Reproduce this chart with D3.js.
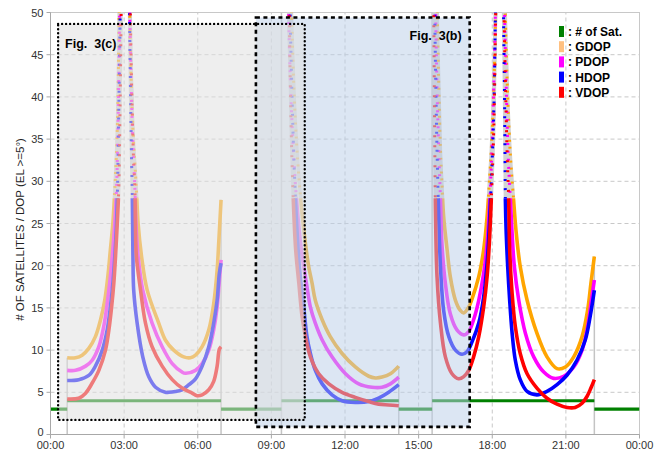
<!DOCTYPE html>
<html><head><meta charset="utf-8">
<script src="https://cdn.jsdelivr.net/npm/d3@7"></script>
<style>
html,body{margin:0;padding:0;background:#fff;}
svg{display:block;font-family:"Liberation Sans",Arial,sans-serif;}
</style></head>
<body><svg id="c" width="659" height="453"></svg>
<script>
// ---------------- DATA ----------------
const xTickHours = [0,3,6,9,12,15,18,21,24];
const xTickLabels = ["00:00","03:00","06:00","09:00","12:00","15:00","18:00","21:00","00:00"];
const yTicks = [0,5,10,15,20,25,30,35,40,45,50];
const yTitle = "# OF SATELLITES / DOP (EL >=5°)";

// number of satellites: interval boundaries (hours) and count in each interval
const satTimes  = [0, 0.68, 6.95, 9.41, 14.19, 15.55, 22.16, 24];
const satCounts = [3, 4, 3, 4, 3, 4, 3];

// DOP series, [hour, value] per visible segment
const gdop = [
 [[0.68,9.1],[1.02,9.1],[1.29,9.4],[1.56,10.2],[1.83,11.6],[2.04,13.6],[2.21,15.9],[2.35,19.1],[2.44,21.9],[2.54,25.0],[2.62,29.0],[2.72,36],[2.78,46],[2.82,55],[3.0,90],[3.20,55],[3.26,45],[3.36,36],[3.50,29.0],[3.57,25.0],[3.71,21.1],[3.94,17.1],[4.41,13.2],[4.68,11.2],[5.02,10.0],[5.43,9.2],[5.70,9.1],[5.91,9.4],[6.18,10.4],[6.45,12.4],[6.65,15.5],[6.79,19.5],[6.86,23.0],[6.95,27.8]],
 [[9.41,95],[9.65,75],[9.82,50],[9.98,37],[10.19,28],[10.42,21.9],[10.52,19.9],[10.66,17.9],[10.79,15.9],[11.07,13.6],[11.40,11.6],[11.88,9.6],[12.42,8.0],[12.97,6.9],[13.24,6.7],[13.51,6.8],[13.85,7.2],[14.19,8.1]],
 [[15.55,95],[15.66,70],[15.76,50],[15.89,33.7],[15.95,29.8],[16.02,25.8],[16.16,21.9],[16.29,18.7],[16.50,15.9],[16.70,14.7],[16.84,14.4],[17.04,15.1],[17.18,16.1],[17.45,18.7],[17.65,21.9],[17.79,25.8],[17.88,29.8],[17.96,33.7],[18.05,40],[18.14,50],[18.25,75],[18.33,95],[18.42,70],[18.53,50],[18.63,40],[18.74,33],[18.87,27.8],[18.98,23.8],[19.14,19.9],[19.42,15.9],[19.82,12.0],[20.23,9.2],[20.64,7.8],[20.98,8.0],[21.32,9.2],[21.66,11.6],[21.89,14.8],[22.02,17.9],[22.16,21.1]]
];
const pdop = [
 [[0.68,7.6],[1.02,7.6],[1.43,8.1],[1.70,8.8],[1.97,10.4],[2.17,12.8],[2.31,15.5],[2.44,18.7],[2.54,21.9],[2.62,25.0],[2.69,29.0],[2.76,38],[2.81,48],[2.85,58],[3.0,90],[3.20,55],[3.27,44],[3.35,35],[3.44,29.0],[3.48,25.0],[3.57,21.1],[3.76,17.1],[4.14,13.2],[4.55,10.4],[4.96,8.4],[5.36,7.4],[5.50,7.25],[5.91,7.6],[6.18,8.4],[6.45,10.0],[6.65,12.4],[6.79,15.1],[6.86,17.5],[6.95,20.7]],
 [[9.41,95],[9.60,67],[9.70,50],[9.84,37],[10.02,28],[10.22,21.9],[10.45,17.5],[10.59,15.1],[10.79,13.2],[11.07,11.2],[11.47,9.2],[12.02,7.2],[12.56,6.0],[13.10,5.6],[13.51,5.6],[13.85,6.0],[14.19,6.8]],
 [[15.55,95],[15.64,70],[15.72,45],[15.82,33.7],[15.89,27.8],[15.95,22.6],[16.09,17.9],[16.29,14.3],[16.56,12.4],[16.84,11.8],[17.04,12.2],[17.24,13.6],[17.45,15.9],[17.65,19.1],[17.79,22.6],[17.88,26.6],[17.96,31.7],[18.05,40],[18.13,50],[18.25,75],[18.33,95],[18.41,70],[18.50,50],[18.58,40],[18.65,33],[18.74,27.8],[18.81,23.8],[18.90,19.9],[19.08,15.9],[19.35,12.0],[19.69,9.2],[20.10,7.4],[20.50,6.65],[20.91,6.9],[21.32,8.0],[21.66,10.0],[21.89,12.8],[22.02,15.5],[22.16,18.3]]
];
const hdop = [
 [[0.68,6.4],[1.15,6.5],[1.56,7.0],[1.83,8.1],[2.11,10.0],[2.31,12.4],[2.44,15.1],[2.54,17.9],[2.62,21.1],[2.69,25.0],[2.73,29.0],[2.78,38],[2.83,48],[2.87,58],[3.0,90],[3.18,60],[3.24,45],[3.30,33],[3.33,29],[3.345,25.0],[3.36,21.0],[3.39,17.1],[3.53,13.2],[3.76,9.2],[4.01,6.8],[4.28,5.6],[4.68,5.0],[4.82,5.0],[5.09,5.1],[5.36,5.3],[5.64,5.9],[5.91,6.6],[6.18,8.1],[6.45,10.4],[6.65,13.2],[6.79,15.9],[6.88,19.1],[6.95,20.3]],
 [[9.41,95],[9.62,70],[9.76,50],[9.88,36],[9.98,28],[10.09,21.9],[10.18,18.7],[10.32,15.1],[10.45,11.6],[10.59,9.6],[10.79,7.6],[11.07,6.0],[11.47,4.7],[11.88,4.0],[12.42,3.8],[12.97,3.9],[13.37,4.3],[13.78,5.0],[14.19,5.9]],
 [[15.55,95],[15.62,60],[15.68,45],[15.75,33.7],[15.82,25.8],[15.89,19.9],[16.02,14.7],[16.23,11.6],[16.50,10.0],[16.77,9.5],[16.97,9.8],[17.18,11.0],[17.45,13.2],[17.65,16.3],[17.79,20.3],[17.88,24.6],[17.96,29.8],[18.06,38],[18.13,50],[18.25,75],[18.33,95],[18.40,70],[18.46,50],[18.50,40],[18.52,33],[18.535,27.8],[18.57,23.8],[18.63,19.9],[18.71,15.9],[18.81,12.0],[18.94,8.8],[19.14,6.5],[19.42,5.1],[19.82,4.7],[20.23,5.1],[20.64,5.9],[21.05,7.05],[21.45,8.8],[21.79,11.2],[21.99,14.0],[22.16,17.1]]
];
const vdop = [
 [[0.68,4.2],[1.15,4.3],[1.43,4.9],[1.70,6.1],[1.97,7.6],[2.24,10.0],[2.38,12.4],[2.49,15.1],[2.58,17.9],[2.65,21.1],[2.72,25.0],[2.78,29.0],[2.83,38],[2.87,48],[2.90,58],[3.0,90],[3.20,60],[3.28,45],[3.38,33],[3.44,29.0],[3.46,25.0],[3.50,21.1],[3.67,17.1],[3.87,13.2],[4.14,10.4],[4.55,8.1],[4.96,6.5],[5.36,5.5],[5.77,4.9],[5.97,4.6],[6.18,4.7],[6.45,5.3],[6.65,6.3],[6.79,8.1],[6.88,10.1],[6.95,10.4]],
 [[9.41,95],[9.65,70],[9.73,50],[9.80,37],[9.89,28],[9.99,21.9],[10.12,17.9],[10.25,14.0],[10.39,11.6],[10.59,9.2],[10.93,7.2],[11.34,6.0],[11.88,5.0],[12.42,4.4],[12.97,3.9],[13.37,3.6],[13.78,3.5],[14.19,3.4]],
 [[15.55,95],[15.60,60],[15.63,45],[15.66,33.7],[15.69,25.8],[15.75,18.7],[15.89,13.2],[16.09,9.2],[16.36,7.2],[16.63,6.6],[16.84,6.85],[17.04,7.6],[17.24,9.2],[17.45,11.6],[17.65,15.1],[17.79,18.7],[17.88,22.6],[17.96,27.8],[18.06,36],[18.14,50],[18.25,75],[18.33,95],[18.41,70],[18.48,50],[18.55,40],[18.61,33],[18.67,27.8],[18.71,21.9],[18.81,16.7],[18.94,12.8],[19.14,9.6],[19.42,7.2],[19.82,5.5],[20.23,4.3],[20.64,3.6],[21.05,3.2],[21.38,3.2],[21.66,3.7],[21.86,4.5],[22.02,5.5],[22.16,6.5]]
];

const seriesNames  = ["GDOP","PDOP","HDOP","VDOP"];
const seriesData   = [gdop, pdop, hdop, vdop];
const seriesColors = ["#ffa500","#ff00ff","#0000ff","#ff0000"];
const legendLabels = [": # of Sat.", ": GDOP", ": PDOP", ": HDOP", ": VDOP"];
const legendColors = ["#008000","#ffc080","#ff00ff","#0000ff","#ff0000"];

// highlighted windows
const boxC = {label:"Fig.  3(c)", t0:0.31, t1:10.36, v0:1.73, v1:48.65};
const boxB = {label:"Fig.  3(b)", t0:8.37, t1:17.08, v0:0.9, v1:49.4};

// ---------------- CHART ----------------
const svg = d3.select("#c");
const x = d3.scaleLinear().domain([0,24]).range([50.5,639.5]);
const y = d3.scaleLinear().domain([0,50]).range([434.5,12.5]);
const steepV = 28; // above this the curves are sparse markers in the reference

const defs = svg.append("defs");
defs.append("clipPath").attr("id","pcLow")
  .append("rect").attr("x",x(0)).attr("y",y(steepV)).attr("width",x(24)-x(0)).attr("height",y(0)-y(steepV));
defs.append("clipPath").attr("id","pcHigh")
  .append("rect").attr("x",x(0)).attr("y",y(50)).attr("width",x(24)-x(0)).attr("height",y(steepV)-y(50));
defs.append("clipPath").attr("id","pc")
  .append("rect").attr("x",x(0)).attr("y",y(50)).attr("width",x(24)-x(0)).attr("height",y(0)-y(50));

// grid
const grid = svg.append("g");
grid.selectAll(".hg").data(yTicks.filter(d=>d>0&&d<50)).join("line")
  .attr("x1",x(0)).attr("x2",x(24)).attr("y1",d=>y(d)).attr("y2",d=>y(d))
  .attr("stroke","#c8c8c8").attr("stroke-dasharray","4,3");
grid.selectAll(".vg").data(xTickHours.filter(d=>d>0&&d<24)).join("line")
  .attr("x1",d=>x(d)).attr("x2",d=>x(d)).attr("y1",y(0)).attr("y2",y(50))
  .attr("stroke","#c8c8c8").attr("stroke-dasharray","4,3");

// frame
svg.append("rect").attr("x",x(0)).attr("y",y(50)).attr("width",x(24)-x(0)).attr("height",y(0)-y(50))
  .attr("fill","none").attr("stroke","#c8c8c8");

const plot = svg.append("g").attr("clip-path","url(#pc)");

// segment boundary lines
const bounds = satTimes.slice(1,-1);
plot.selectAll(".bl").data(bounds).join("line")
  .attr("x1",d=>x(d)).attr("x2",d=>x(d)).attr("y1",y(0))
  .attr("y2",d=>{
    let m=0;
    seriesData.forEach(s=>s.forEach(seg=>seg.forEach(p=>{ if(Math.abs(p[0]-d)<1e-6) m=Math.max(m,p[1]); })));
    return y(Math.min(m,50));
  })
  .attr("stroke","#c4c4c4").attr("stroke-width",1.5);

const line = d3.line().x(d=>x(d[0])).y(d=>y(d[1])).curve(d3.curveCatmullRom.alpha(0.5));

// steep (upper) part: gray connecting band + sparse coloured markers
const hi = svg.append("g").attr("clip-path","url(#pcHigh)");
seriesData.forEach(s=>{
  hi.append("g").selectAll("path").data(s).join("path")
    .attr("d",line).attr("fill","none").attr("stroke","#d2d2d2").attr("stroke-width",3.4);
});
seriesData.forEach((s,i)=>{
  hi.append("g").selectAll("path").data(s).join("path")
    .attr("d",line).attr("fill","none").attr("stroke",seriesColors[i])
    .attr("stroke-width",3).attr("stroke-dasharray",`2,${5+i}`).attr("stroke-dashoffset",i*2.5);
});
// lower part: dense markers -> solid band
const lo = svg.append("g").attr("clip-path","url(#pcLow)");
seriesData.forEach((s,i)=>{
  lo.append("g").selectAll("path").data(s).join("path")
    .attr("d",line).attr("fill","none").attr("stroke",seriesColors[i])
    .attr("stroke-width",3.6).attr("stroke-linejoin","round");
});

// satellites
const satSeg = satCounts.map((c,i)=>({t0:satTimes[i], t1:satTimes[i+1], c}));
plot.selectAll(".sat").data(satSeg).join("line")
  .attr("x1",d=>x(d.t0)).attr("x2",d=>x(d.t1)).attr("y1",d=>y(d.c)).attr("y2",d=>y(d.c))
  .attr("stroke","#008000").attr("stroke-width",3.2);

// overlays
function bx(b){ return {x:x(b.t0), y:y(b.v1), w:x(b.t1)-x(b.t0), h:y(b.v0)-y(b.v1)}; }
const rc = bx(boxC), rb = bx(boxB);
svg.append("rect").attr("x",rb.x).attr("y",rb.y).attr("width",rb.w).attr("height",rb.h)
  .attr("fill","rgb(188,208,232)").attr("fill-opacity",0.52);
svg.append("rect").attr("x",rc.x).attr("y",rc.y).attr("width",rc.w).attr("height",rc.h)
  .attr("fill","rgb(224,224,224)").attr("fill-opacity",0.55);
svg.append("rect").attr("x",rc.x).attr("y",rc.y).attr("width",rc.w).attr("height",rc.h)
  .attr("fill","none").attr("stroke","#000").attr("stroke-width",2.4)
  .attr("stroke-dasharray","0,4").attr("stroke-linecap","round");
svg.append("rect").attr("x",rb.x).attr("y",rb.y).attr("width",rb.w).attr("height",rb.h)
  .attr("fill","none").attr("stroke","#000").attr("stroke-width",2.6)
  .attr("stroke-dasharray","4,3.5");
svg.append("text").attr("x",rc.x+7).attr("y",rc.y+24).text(boxC.label)
  .attr("font-weight","bold").attr("font-size",12.5).attr("fill","#000").style("white-space","pre");
svg.append("text").attr("x",rb.x+rb.w-8).attr("y",rb.y+22).attr("text-anchor","end").text(boxB.label)
  .attr("font-weight","bold").attr("font-size",12.5).attr("fill","#000").style("white-space","pre");

// axes
svg.append("line").attr("x1",x(0)).attr("x2",x(0)).attr("y1",y(0)).attr("y2",y(50)).attr("stroke","#a8a8a8");
svg.append("line").attr("x1",x(0)).attr("x2",x(24)).attr("y1",y(0)).attr("y2",y(0)).attr("stroke","#a8a8a8");
svg.selectAll(".yt").data(yTicks).join("line")
  .attr("x1",x(0)-4).attr("x2",x(0)).attr("y1",d=>y(d)).attr("y2",d=>y(d)).attr("stroke","#a8a8a8");
svg.selectAll(".ytl").data(yTicks).join("text")
  .attr("x",x(0)-7).attr("y",d=>y(d)+(d===0?1:4)).attr("text-anchor","end").attr("font-size",11).attr("fill","#333")
  .text(d=>d);
svg.selectAll(".xt").data(xTickHours).join("line")
  .attr("x1",d=>x(d)).attr("x2",d=>x(d)).attr("y1",y(0)).attr("y2",y(0)+4).attr("stroke","#a8a8a8");
svg.selectAll(".xtl").data(xTickHours).join("text")
  .attr("x",d=>x(d)).attr("y",y(0)+14.5).attr("text-anchor","middle").attr("font-size",11).attr("fill","#333")
  .text((d,i)=>xTickLabels[i]);
svg.append("text").attr("transform",`translate(24,${(y(0)+y(50))/2+6}) rotate(-90)`)
  .attr("text-anchor","middle").attr("font-size",11.5).attr("fill","#222").text(yTitle);

// legend
const lg = svg.append("g");
legendLabels.forEach((l,i)=>{
  const yy = 26 + i*15.2;
  lg.append("rect").attr("x",559).attr("y",yy).attr("width",5).attr("height",11).attr("fill",legendColors[i]);
  lg.append("text").attr("x",568).attr("y",yy+10).attr("font-size",12).attr("font-weight","bold")
    .attr("fill","#000").text(l);
});
</script></body></html>
